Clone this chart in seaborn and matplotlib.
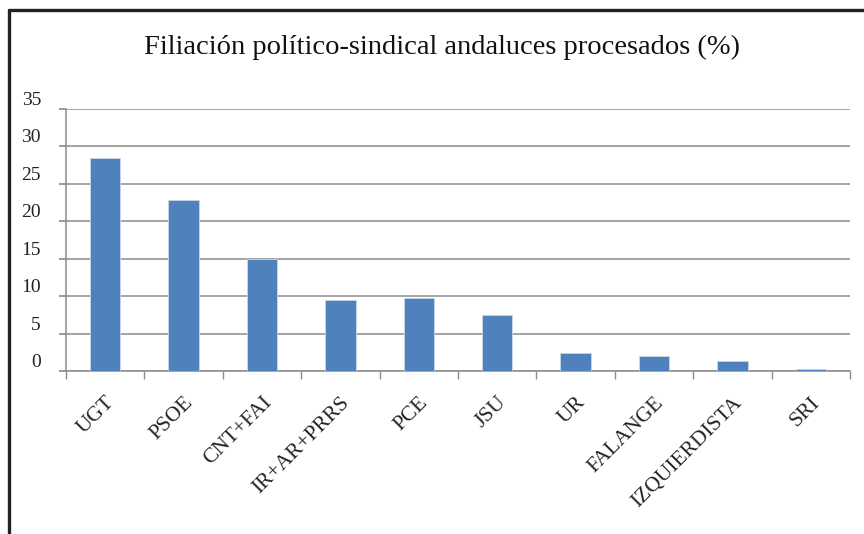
import matplotlib
matplotlib.use("Agg")
import matplotlib.pyplot as plt
from matplotlib.lines import Line2D
import seaborn as sns
import pandas as pd

categories = ["UGT", "PSOE", "CNT+FAI", "IR+AR+PRRS", "PCE", "JSU", "UR",
              "FALANGE", "IZQUIERDISTA", "SRI"]
values = [28.5, 22.8, 15.0, 9.5, 9.7, 7.5, 2.45, 1.95, 1.36, 0.3]
yticks = [0, 5, 10, 15, 20, 25, 30, 35]
title = "Filiación político-sindical andaluces procesados (%)"

df = pd.DataFrame({"cat": categories, "val": values})

sns.set_theme(style="white")
plt.rcParams["font.family"] = ["Liberation Serif", "DejaVu Serif"]

fig = plt.figure(figsize=(8.64, 5.34), dpi=100)
ax = fig.add_axes([66/864, 1-371/534, (850-66)/864, (371-109)/534])

sns.barplot(data=df, x="cat", y="val", color="#4F81BD", width=0.39,
            saturation=1, ax=ax, zorder=3, edgecolor="#c9d6e8", linewidth=0.6)

ax.set_ylim(0, 35)
ax.set_xlim(-0.5, len(categories)-0.5)
ax.set_yticks(yticks)
ax.set_yticklabels([str(t) for t in yticks], fontsize=14, color="#222222")
for lbl in ax.get_yticklabels():
    lbl.set_verticalalignment("bottom")
ax.yaxis.grid(True, color="#8c8c8c", linewidth=1.1, zorder=0)
ax.tick_params(axis="y", which="major", length=5, color="#8c8c8c", pad=13, left=True)

ax.set_xticks(range(len(categories)))
ax.set_xticklabels(categories, fontsize=15.5, rotation=45, ha="right",
                   rotation_mode="anchor", color="#222222")
ax.set_xticks([i - 0.5 for i in range(len(categories)+1)], minor=True)
ax.tick_params(axis="x", which="major", length=0, pad=16)
ax.tick_params(axis="x", which="minor", length=6, color="#8c8c8c", bottom=True)

for s in ["top", "right"]:
    ax.spines[s].set_visible(False)
for s in ["left", "bottom"]:
    ax.spines[s].set_color("#8c8c8c")
    ax.spines[s].set_linewidth(1.1)
ax.set_xlabel("")
ax.set_ylabel("")

fig.text(0.512, 1-47/534, title, ha="center", va="center", fontsize=20.5, color="#111111")

# outer frame (partially visible)
fig.add_artist(Line2D([9/864, 9/864], [0, 1-10/534], transform=fig.transFigure,
                      color="#222222", linewidth=2.4))
fig.add_artist(Line2D([9/864, 1], [1-10/534, 1-10/534], transform=fig.transFigure,
                      color="#222222", linewidth=2.4))

fig.savefig("out.png", dpi=100)
